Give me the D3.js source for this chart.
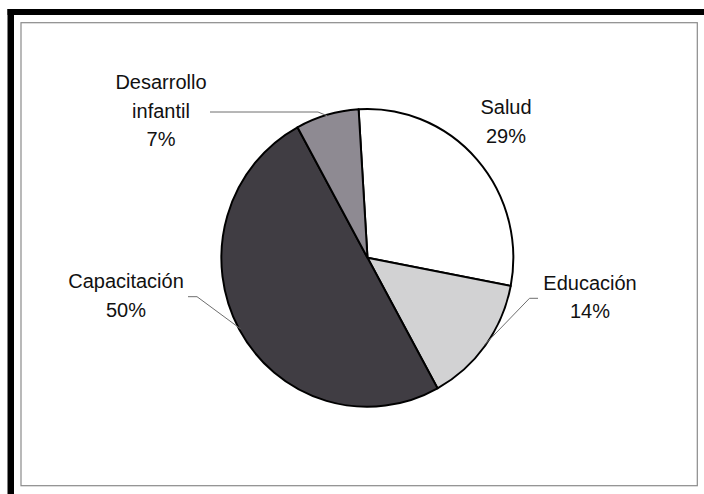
<!DOCTYPE html>
<html>
<head>
<meta charset="utf-8">
<script src="https://cdn.jsdelivr.net/npm/d3@7"></script>
<style>
  html, body { margin: 0; padding: 0; background: #fff; }
  svg { display: block; }
  text { font-family: "Liberation Sans", Arial, sans-serif; fill: #111; }
</style>
</head>
<body>
<svg id="chart" width="704" height="494"></svg>
<script>
// ---- data ----
const categories = ["Salud", "Educación", "Capacitación", "Desarrollo infantil"];
const values = [29, 14, 50, 7];
const labelLines = [["Salud", "29%"], ["Educación", "14%"], ["Capacitación", "50%"], ["Desarrollo", "infantil", "7%"]];
const fills = ["#ffffff", "#d2d2d3", "#403d43", "#8e8a92"];

// ---- layout ----
const W = 704, H = 494;
const cx = 367.5, cy = 257.8, R = 148.8, sx = 0.98;
const startAngle = -3.5 * Math.PI / 180;
// label anchor (center x, first baseline y)
const labelPos = [[506, 114], [590, 289.5], [126, 288], [161, 89]];
const lineGap = 28.6;
// leader elbows (label side start, elbow) ; null = no leader
const leaders = [null, [[538, 298.3], [529.5, 298.3]], [[188, 296.7], [197, 296.7]], [[210, 112], [318, 112]]];

const svg = d3.select("#chart");

// frame
svg.append("rect").attr("x", 7.5).attr("y", 9).attr("width", W - 7.5).attr("height", 6).attr("fill", "#000");
svg.append("rect").attr("x", 7.5).attr("y", 9).attr("width", 6.5).attr("height", H - 9).attr("fill", "#000");
svg.append("rect").attr("x", 21).attr("y", 22.7).attr("width", 676.3).attr("height", 463)
  .attr("fill", "none").attr("stroke", "#8a8a8a").attr("stroke-width", 1.2);

const pie = d3.pie().sort(null).value(d => d).startAngle(startAngle).endAngle(startAngle + 2 * Math.PI);
const arcs = pie(values);
const arc = d3.arc().innerRadius(0).outerRadius(R);

const g = svg.append("g").attr("transform", `translate(${cx},${cy}) scale(${sx},1)`);
g.selectAll("path.slice").data(arcs).join("path")
  .attr("class", "slice")
  .attr("d", arc)
  .attr("fill", (d, i) => fills[i])
  .attr("stroke", "#000").attr("stroke-width", 2).attr("stroke-linejoin", "round");

// leader lines
arcs.forEach((d, i) => {
  if (!leaders[i]) return;
  const mid = (d.startAngle + d.endAngle) / 2;
  const px = cx + sx * (R - 1) * Math.sin(mid);
  const py = cy - (R - 1) * Math.cos(mid);
  const pts = [...leaders[i], [px, py]];
  svg.append("path").attr("d", d3.line()(pts))
    .attr("fill", "none").attr("stroke", "#6e6e6e").attr("stroke-width", 1);
});

// labels
labelLines.forEach((lines, i) => {
  const t = svg.append("text").attr("text-anchor", "middle").attr("font-size", 20);
  lines.forEach((s, k) => {
    t.append("tspan").attr("x", labelPos[i][0]).attr("y", labelPos[i][1] + k * lineGap).text(s);
  });
});
</script>
</body>
</html>
